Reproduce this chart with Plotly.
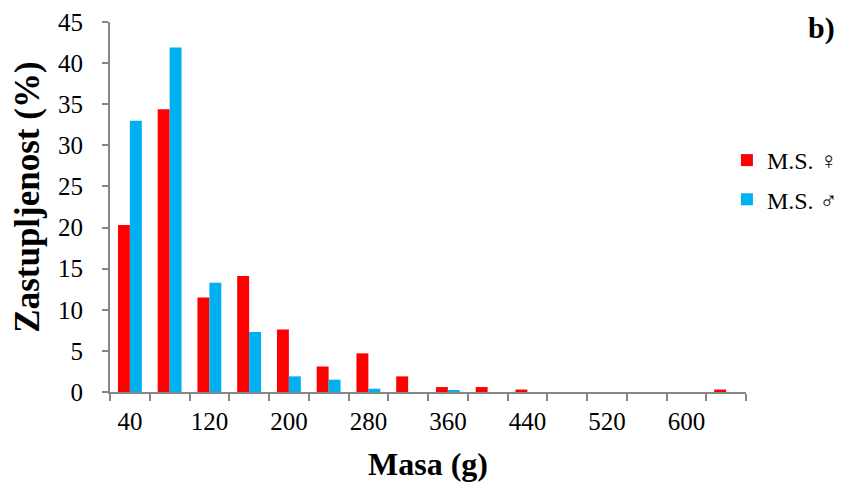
import plotly.graph_objects as go

masa = [40, 80, 120, 160, 200, 240, 280, 320, 360, 400, 440, 480, 520, 560, 600, 640]
zenke = [20.3, 34.4, 11.5, 14.1, 7.6, 3.1, 4.7, 1.9, 0.6, 0.6, 0.3, 0, 0, 0, 0, 0.3]
muzjaki = [33.0, 41.9, 13.3, 7.3, 1.9, 1.5, 0.4, 0, 0.2, 0, 0, 0, 0, 0, 0, 0]
tick_labels = [40, 120, 200, 280, 360, 440, 520, 600]

font_fam = "Liberation Serif, Times New Roman, serif"
axis_col = "#868686"

fig = go.Figure()
fig.add_trace(go.Bar(x=masa, y=zenke, name="M.S. ♀", legendgroup="z",
                     marker=dict(color="#FF0000", line=dict(width=0))))
fig.add_trace(go.Bar(x=masa, y=muzjaki, name="M.S. ♂", legendgroup="m",
                     marker=dict(color="#00B0F0", line=dict(width=0))))

# page body has an 8px margin, so the figure is 8px smaller on each side
fig.update_layout(
    width=838, height=474,
    margin=dict(l=102, r=100, t=14, b=90, autoexpand=False),
    paper_bgcolor="white", plot_bgcolor="white",
    barmode="group", bargap=0.4, bargroupgap=0,
    font=dict(family=font_fam, size=25, color="black"),
    legend=dict(x=0.97, y=0.573, xanchor="left", yanchor="middle",
                font=dict(family=font_fam, size=24), itemwidth=30,
                tracegroupgap=5),
    xaxis=dict(
        range=[20, 660], showgrid=False, zeroline=False, automargin=False,
        showline=True, linecolor=axis_col, linewidth=2,
        tickmode="array", tickvals=tick_labels, ticktext=[str(t) for t in tick_labels],
        ticks="", tickfont=dict(family=font_fam, size=25), ticklabelstandoff=6,
        minor=dict(ticks="outside", tickmode="linear", tick0=20, dtick=40,
                   ticklen=7, tickcolor=axis_col, tickwidth=2, showgrid=False),
    ),
    yaxis=dict(
        range=[0, 45], dtick=5, showgrid=False, zeroline=False, automargin=False,
        showline=True, linecolor=axis_col, linewidth=2,
        ticks="outside", ticklen=6, tickcolor=axis_col, tickwidth=2,
        tickfont=dict(family=font_fam, size=25), ticklabelstandoff=14,
    ),
)

fig.add_annotation(text="<b>Masa (g)</b>", xref="paper", yref="paper", x=0.5, y=-0.195,
                   xanchor="center", yanchor="middle", showarrow=False,
                   font=dict(family=font_fam, size=32))
fig.add_annotation(text="<b>Zastupljenost (%)</b>", xref="paper", yref="paper", x=-0.131, y=0.527,
                   xanchor="center", yanchor="middle", showarrow=False, textangle=-90,
                   font=dict(family=font_fam, size=35))
fig.add_annotation(text="<b>b)</b>", xref="paper", yref="paper", x=1.143, y=0.984,
                   xanchor="right", yanchor="middle", showarrow=False,
                   font=dict(family=font_fam, size=30))

fig.write_html("out.html")
